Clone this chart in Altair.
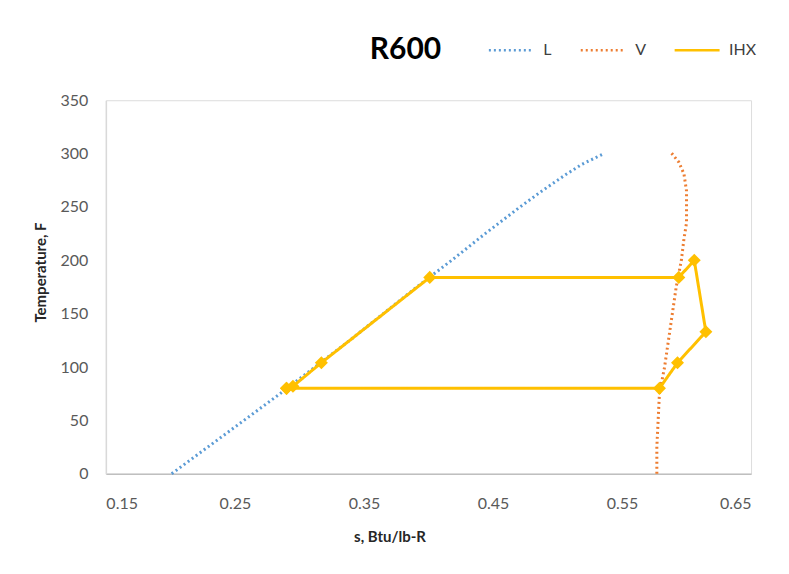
import altair as alt
import pandas as pd

# Saturated liquid line (L)
L_T = [0, 25, 50, 75, 100, 125, 150, 175, 200, 225, 250, 265, 280, 290, 300]
L_s = [0.201, 0.229, 0.257, 0.285, 0.312, 0.339, 0.365, 0.391, 0.418, 0.444,
       0.471, 0.488, 0.506, 0.519, 0.536]

# Saturated vapour line (V)
V_T = [0, 25, 50, 75, 100, 125, 150, 175, 200, 220, 235, 250, 265, 281, 292, 301]
V_s = [0.577, 0.577, 0.578, 0.579, 0.583, 0.586, 0.589, 0.592, 0.596, 0.598,
       0.600, 0.600, 0.600, 0.598, 0.594, 0.588]

# IHX cycle
IHX_T = [80, 82, 104, 184, 184, 200, 133, 104, 80, 80]
IHX_s = [0.290, 0.295, 0.317, 0.401, 0.594, 0.606, 0.615, 0.593, 0.579, 0.290]

series_names = ["L", "V", "IHX"]
series_colors = ["#5B9BD5", "#ED7D31", "#FFC000"]
chart_title = "R600"

rows = []
for name, ss, ts in [("L", L_s, L_T), ("V", V_s, V_T), ("IHX", IHX_s, IHX_T)]:
    for i, (s, t) in enumerate(zip(ss, ts)):
        rows.append({"series": name, "s": s, "T": t, "order": i})
df = pd.DataFrame(rows)

FONT = "Lato"

x_enc = alt.X("s:Q",
              scale=alt.Scale(domain=[0.15, 0.65], nice=False, zero=False),
              axis=alt.Axis(values=[0.15, 0.25, 0.35, 0.45, 0.55, 0.65], format=".2f",
                            title="s, Btu/lb-R", grid=False, ticks=False,
                            domainColor="#BFBFBF", domainWidth=1.5,
                            labelPadding=22, titlePadding=18,
                            labelFontSize=16, labelColor="#595959", labelFont=FONT,
                            titleFont=FONT, titleFontSize=15, titleFontWeight="bold",
                            titleColor="#262626", titleX=284))
y_enc = alt.Y("T:Q",
              scale=alt.Scale(domain=[0, 350], nice=False, zero=False),
              axis=alt.Axis(values=list(range(0, 351, 50)),
                            title="Temperature, F", grid=False, ticks=False,
                            domainColor="#D9D9D9", domainWidth=1.5,
                            labelPadding=18, titlePadding=12,
                            labelFontSize=16, labelColor="#595959", labelFont=FONT,
                            titleFont=FONT, titleFontSize=15, titleFontWeight="bold",
                            titleColor="#262626", titleY=172))

legend_kw = dict(title=None, orient="none", direction="horizontal",
                 legendX=382, legendY=-74,
                 symbolType="stroke", symbolSize=2025,
                 symbolStrokeWidth=2.5, columnPadding=23,
                 labelOffset=8, labelFontSize=16, labelFont=FONT,
                 labelColor="#404040")

color_enc = alt.Color("series:N",
                      scale=alt.Scale(domain=series_names, range=series_colors),
                      legend=alt.Legend(**legend_kw))
dash_enc = alt.StrokeDash("series:N",
                          scale=alt.Scale(domain=series_names,
                                          range=[[2, 3], [2, 3], [1, 0]]),
                          legend=alt.Legend(**legend_kw))

lines = alt.Chart(df).mark_line(strokeWidth=3).encode(
    x=x_enc, y=y_enc, color=color_enc, strokeDash=dash_enc,
    order=alt.Order("order:Q"), detail="series:N",
)

points = alt.Chart(df).transform_filter(alt.datum.series == "IHX").mark_point(
    shape="diamond", filled=True, size=170, opacity=1, color="#FFC000"
).encode(x="s:Q", y="T:Q")

title_text = alt.Chart(pd.DataFrame({"t": [chart_title]})).mark_text(
    font=FONT, fontSize=30, fontWeight="bold", color="#000000",
    align="center", baseline="middle"
).encode(text="t:N", x=alt.value(300), y=alt.value(-50))

chart = alt.layer(lines, points, title_text).properties(
    width=646, height=374,
    autosize=alt.AutoSizeParams(type="none"),
    padding={"left": 98, "top": 92, "right": 30, "bottom": 70},
).configure_view(strokeWidth=0, stroke="transparent").configure(background="white")

chart.save("out.html", embed_options={"renderer": "svg", "actions": False})
